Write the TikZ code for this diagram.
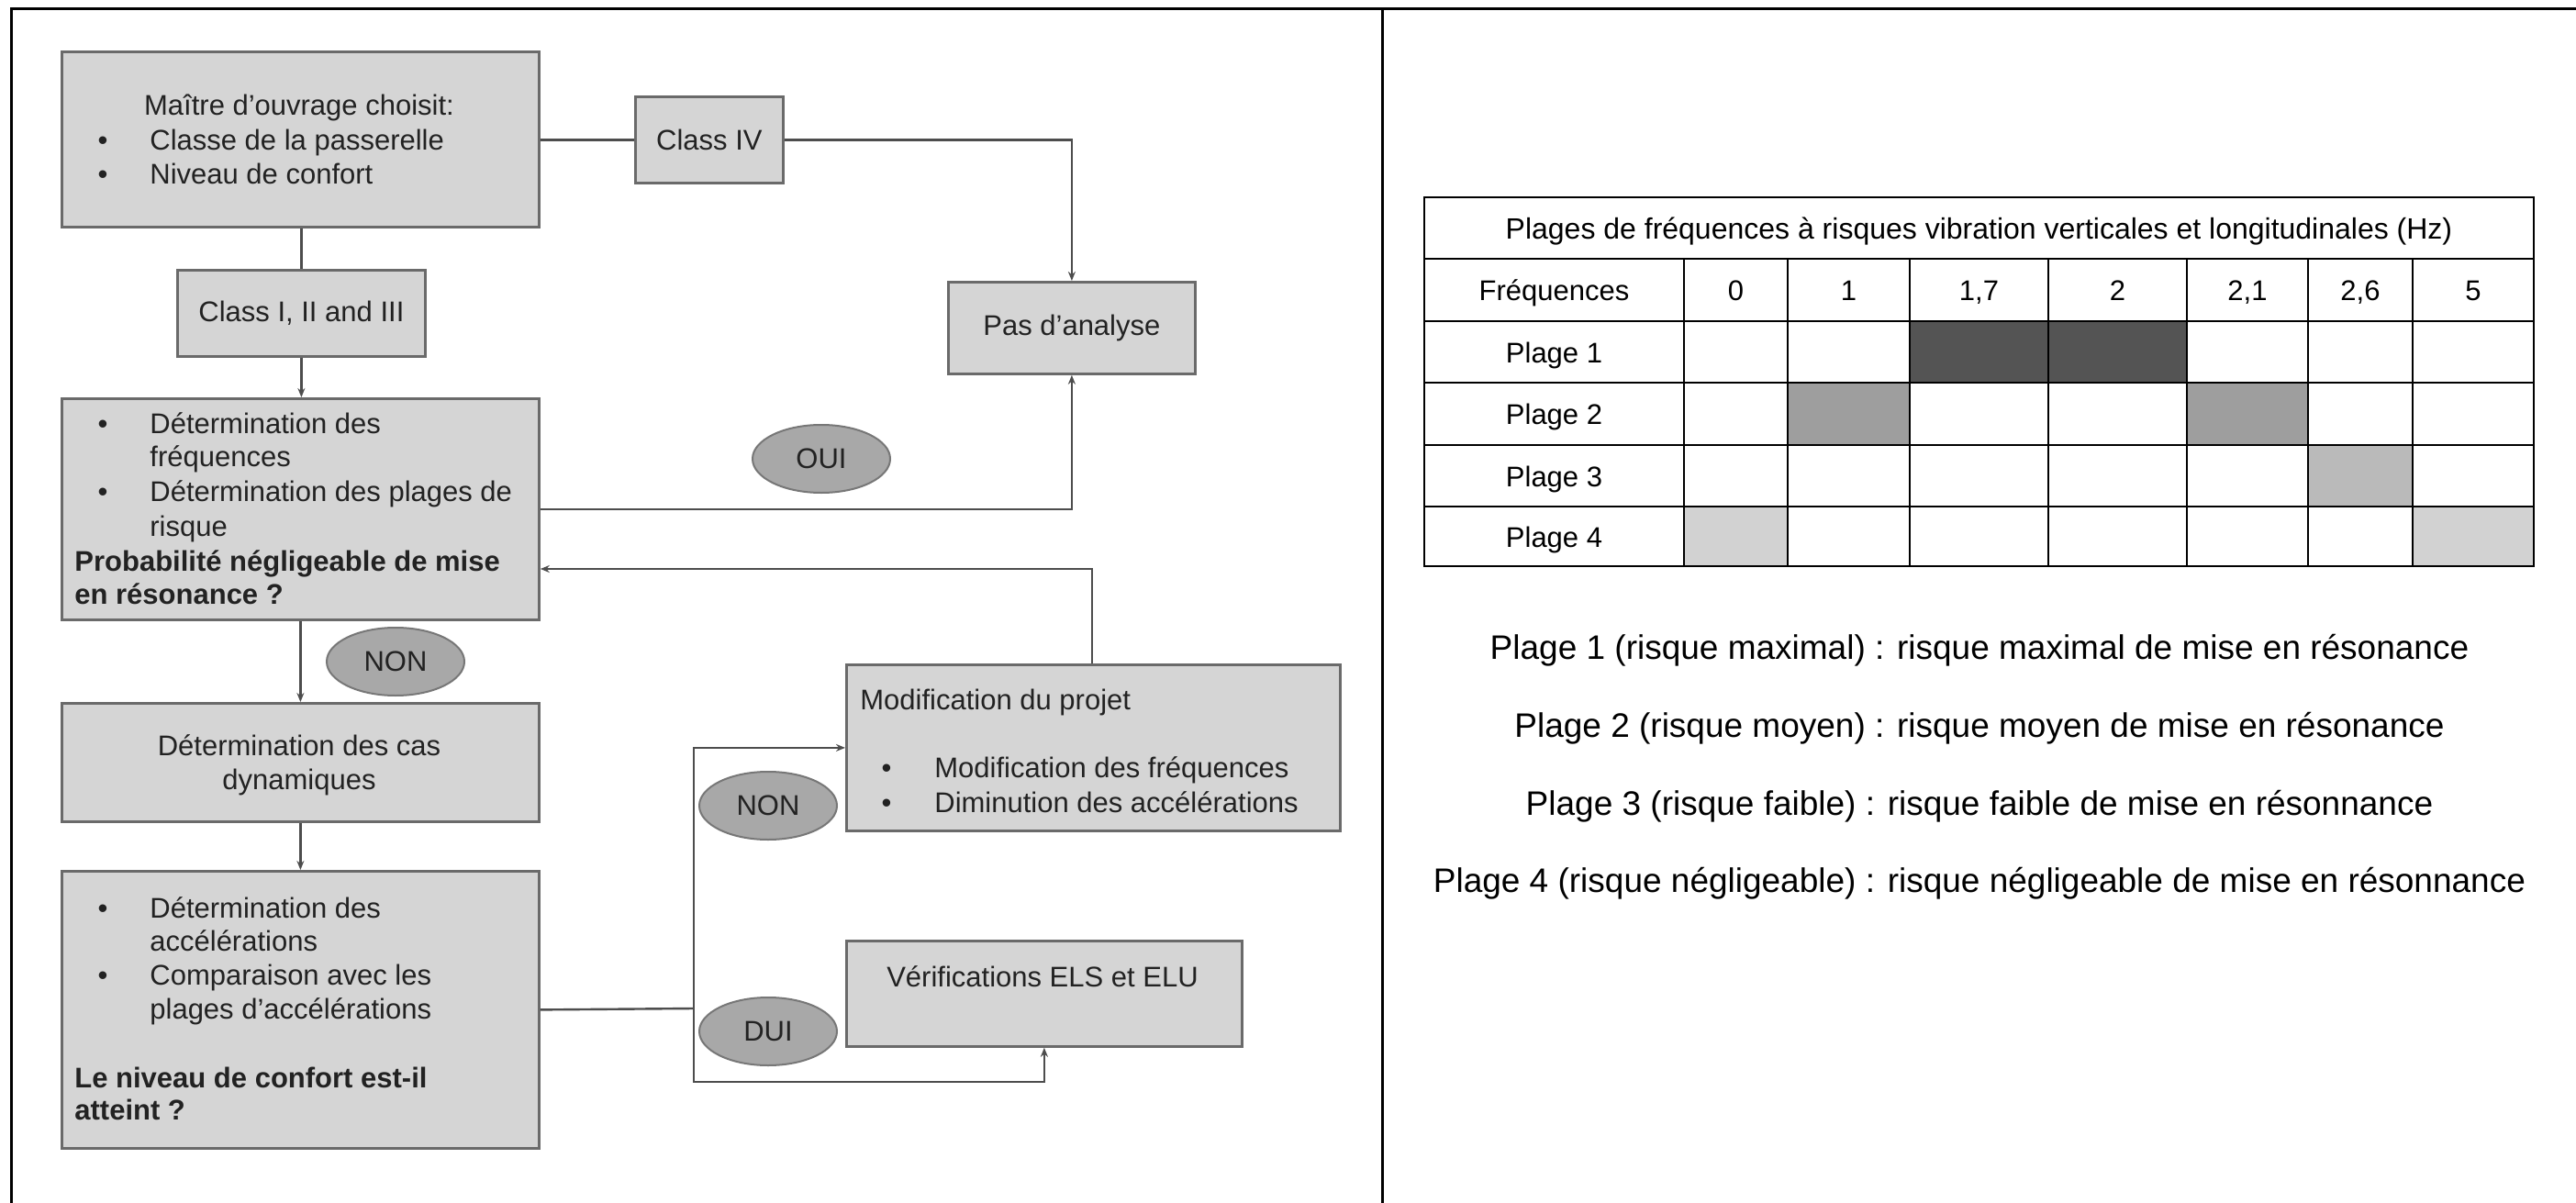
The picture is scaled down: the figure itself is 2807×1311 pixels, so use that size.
\documentclass[tikz,border=0pt]{standalone}
\usepackage{fontspec}
\setmainfont{Liberation Sans}
\usetikzlibrary{arrows.meta,shapes.geometric}
\definecolor{boxfill}{HTML}{D5D5D5}
\definecolor{boxline}{HTML}{6A6A6A}
\definecolor{ovalfill}{HTML}{A8A8A8}
\definecolor{ovalline}{HTML}{777777}
\definecolor{wirec}{HTML}{4D4D4D}
\definecolor{ink}{HTML}{222222}
\definecolor{pA}{HTML}{545454}
\definecolor{pB}{HTML}{9E9E9E}
\definecolor{pC}{HTML}{BABABA}
\definecolor{pD}{HTML}{D2D2D2}
\begin{document}
\begin{tikzpicture}[x=0.5pt,y=-0.5pt,
  fbox/.style={draw=boxline,fill=boxfill,line width=1.4pt,inner sep=0pt,anchor=north west,
    font=\fontsize{15.5}{18.5}\selectfont,text=ink},
  oval/.style={ellipse,draw=ovalline,fill=ovalfill,line width=1pt,minimum width=75pt,
    minimum height=37pt,inner sep=0pt,font=\fontsize{15.5}{18.5}\selectfont,text=ink},
  lt/.style={inner sep=0pt,anchor=base west,font=\fontsize{15.5}{18.5}\selectfont,text=ink},
  lc/.style={lt,anchor=base},
  lb/.style={lt,font=\fontsize{15.5}{18.5}\selectfont\bfseries},
  wire/.style={draw=wirec,line width=1.2pt},
  arr/.style={wire,-{Stealth[length=5pt,width=4pt]}},
  tc/.style={inner sep=0pt,anchor=base,font=\fontsize{15.5}{18.5}\selectfont},
  leg/.style={inner sep=0pt,anchor=base,font=\fontsize{18.5}{22}\selectfont},
]
\useasboundingbox (0,0) rectangle (2807,1311);
\fill[white] (0,0) rectangle (2807,1311);

% frame
\draw[line width=1.5pt] (12,1311) -- (12,10) -- (2807,10);
\draw[line width=1.5pt] (1506,10) -- (1506,1311);

% ---------- flowchart boxes ----------
\node[fbox,minimum width=260pt,minimum height=95.5pt] (b1) at (66,55) {};
\node[fbox,minimum width=80.5pt,minimum height=47pt] (c4) at (691,104) {Class IV};
\node[fbox,minimum width=134.5pt,minimum height=50pt] (pa) at (1032,306) {Pas d'analyse};
\node[fbox,minimum width=135pt,minimum height=47pt] (c13) at (192,293) {Class I, II and III};
\node[fbox,minimum width=260pt,minimum height=120.5pt] (b3) at (66,433) {};
\node[fbox,minimum width=260pt,minimum height=64.5pt] (b4) at (66,765) {};
\node[fbox,minimum width=260pt,minimum height=151pt] (b5) at (66,948) {};
\node[fbox,minimum width=269pt,minimum height=90.5pt] (mod) at (921,723) {};
\node[fbox,minimum width=215.5pt,minimum height=57.5pt] (ver) at (921,1024) {};

% ---------- connectors ----------
\coordinate (fb) at (1190,620);
\coordinate (jn) at (756,1099);
\coordinate (jb) at (756,1179);
\draw[wire] (c4.west -| b1.east) -- (c4.west);
\draw[arr] (c4.east) -| (pa.north);
\draw[wire] (c13.north |- b1.south) -- (c13.north);
\draw[arr] (c13.south) -- (c13.south |- b3.north);
\draw[arr] (b3.east) -| (pa.south);
\draw[arr] (mod.north -| fb) -- (fb) -- (fb -| b3.east);
\draw[arr] (b3.south) -- (b4.north);
\draw[arr] (b4.south) -- (b5.north);
\draw[wire] (b5.east) -- (jn);
\draw[arr] (jn) |- (mod.west);
\draw[arr] (jn) -- (jb) -| (ver.south);

% ---------- decision ovals ----------
\node[oval] (oui) at (895,500) {OUI};
\node[oval] (non1) at (431,721) {NON};
\node[oval] (non2) at (837,878) {NON};
\node[oval] (dui) at (837,1124) {DUI};

% ---------- texts in boxes ----------
\node[lc] (t1a) at (326,126) {Maître d'ouvrage choisit:};
\node[lc] (t1b) at (112,163) {•};
\node[lt] (t1c) at (163,163) {Classe de la passerelle};
\node[lc] (t1d) at (112,200) {•};
\node[lt] (t1e) at (163,200) {Niveau de confort};

\node[lc] (t3a) at (112,472) {•};
\node[lt] (t3b) at (163,472) {Détermination des};
\node[lt] (t3c) at (163,508) {fréquences};
\node[lc] (t3d) at (112,546) {•};
\node[lt] (t3e) at (163,546) {Détermination des plages de};
\node[lt] (t3f) at (163,584) {risque};
\node[lb] (t3g) at (81,622) {Probabilité négligeable de mise};
\node[lb] (t3h) at (81,658) {en résonance ?};

\node[lc] (t4a) at (326,823) {Détermination des cas};
\node[lc] (t4b) at (326,860) {dynamiques};

\node[lc] (t5a) at (112,1000) {•};
\node[lt] (t5b) at (163,1000) {Détermination des};
\node[lt] (t5c) at (163,1036) {accélérations};
\node[lc] (t5d) at (112,1073) {•};
\node[lt] (t5e) at (163,1073) {Comparaison avec les};
\node[lt] (t5f) at (163,1110) {plages d'accélérations};
\node[lb] (t5g) at (81,1185) {Le niveau de confort est-il};
\node[lb] (t5h) at (81,1220) {atteint ?};

\node[lt] (tma) at (937,773) {Modification du projet};
\node[lc] (tmb) at (966,847) {•};
\node[lt] (tmc) at (1018,847) {Modification des fréquences};
\node[lc] (tmd) at (966,885) {•};
\node[lt] (tme) at (1018,885) {Diminution des accélérations};

\node[lc] (tva) at (1136,1075) {Vérifications ELS et ELU};

% ---------- table ----------
\fill[pA] (2081,350) rectangle (2383,417);
\fill[pB] (1948,417) rectangle (2081,485);
\fill[pB] (2383,417) rectangle (2515,485);
\fill[pC] (2515,485) rectangle (2629,552);
\fill[pD] (1835,552) rectangle (1948,617);
\fill[pD] (2629,552) rectangle (2761,617);
\draw[line width=1pt] (1552,215) rectangle (2761,617);
\foreach \yy in {282,350,417,485,552} {\draw[line width=1pt] (1552,\yy) -- (2761,\yy);}
\foreach \xx in {1835,1948,2081,2232,2383,2515,2629} {\draw[line width=1pt] (\xx,282) -- (\xx,617);}

\node[tc,font=\fontsize{16}{19}\selectfont] (th) at (2156.5,260) {Plages de fréquences à risques vibration verticales et longitudinales (Hz)};
\node[tc] (rf) at (1693.5,327) {Fréquences};
\node[tc] (r1) at (1693.5,395) {Plage 1};
\node[tc] (r2) at (1693.5,462) {Plage 2};
\node[tc] (r3) at (1693.5,530) {Plage 3};
\node[tc] (r4) at (1693.5,596) {Plage 4};
\node[tc] (f0) at (1891.5,327) {0};
\node[tc] (f1) at (2014.5,327) {1};
\node[tc] (f2) at (2156.5,327) {1,7};
\node[tc] (f3) at (2307.5,327) {2};
\node[tc] (f4) at (2449,327) {2,1};
\node[tc] (f5) at (2572,327) {2,6};
\node[tc] (f6) at (2695,327) {5};

% ---------- legend ----------
\node[leg] (l1) at (2157,718) {Plage 1 (risque maximal) : risque maximal de mise en résonance};
\node[leg] (l2) at (2157,803) {Plage 2 (risque moyen) : risque moyen de mise en résonance};
\node[leg] (l3) at (2157,888) {Plage 3 (risque faible) : risque faible de mise en résonnance};
\node[leg] (l4) at (2157,972) {Plage 4 (risque négligeable) : risque négligeable de mise en résonnance};
\end{tikzpicture}
\end{document}
